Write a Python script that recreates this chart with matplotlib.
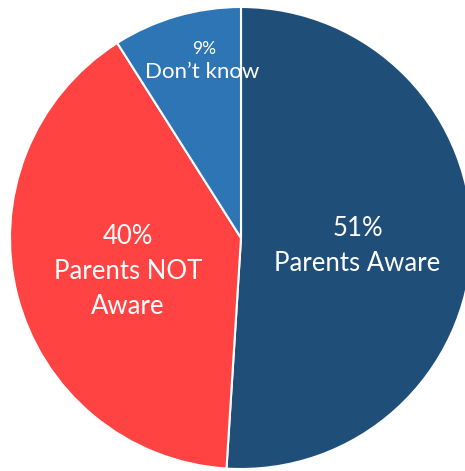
import numpy as np
import matplotlib
matplotlib.use("Agg")
import matplotlib.pyplot as plt

plt.rcParams["font.family"] = ["Lato", "DejaVu Sans"]

categories = ["Parents Aware", "Parents NOT\nAware", "Don\u2019t know"]
shares = [51, 40, 9]
colors = ["#1F4E79", "#FF4343", "#2E75B6"]

W, H = 465, 471
cx, cy, R = 241, 238, 231  # pixel centre / radius of the pie

fig = plt.figure(figsize=(W / 100, H / 100), dpi=100)
ax = fig.add_axes([0, 0, 1, 1])
wedges, _ = ax.pie(
    shares,
    colors=colors,
    startangle=90,
    counterclock=False,
    radius=1.0,
    wedgeprops={"edgecolor": "white", "linewidth": 1.5},
)
ax.set_xlim(-cx / R, (W - cx) / R)
ax.set_ylim(-(H - cy) / R, cy / R)
ax.set_aspect("auto")
ax.axis("off")


def mid_point(w, r):
    mid = np.deg2rad((w.theta1 + w.theta2) / 2)
    return r * np.cos(mid), r * np.sin(mid)


# two big slices: one centred text block
for w, name, share in zip(wedges[:2], categories[:2], shares[:2]):
    x, y = mid_point(w, 0.505)
    ax.text(x, y - 0.018, f"{share}%\n{name}", color="white", fontsize=18.5,
            ha="center", va="center", linespacing=1.5)

# small slice: smaller percentage above the name
x, y = mid_point(wedges[2], 0.80)
x += 0.055
ax.text(x + 0.01, y + 0.05, f"{shares[2]}%", color="white", fontsize=12.5,
        ha="center", va="center")
ax.text(x, y - 0.05, categories[2], color="white", fontsize=16,
        ha="center", va="center")

fig.savefig("out.png", dpi=100)
